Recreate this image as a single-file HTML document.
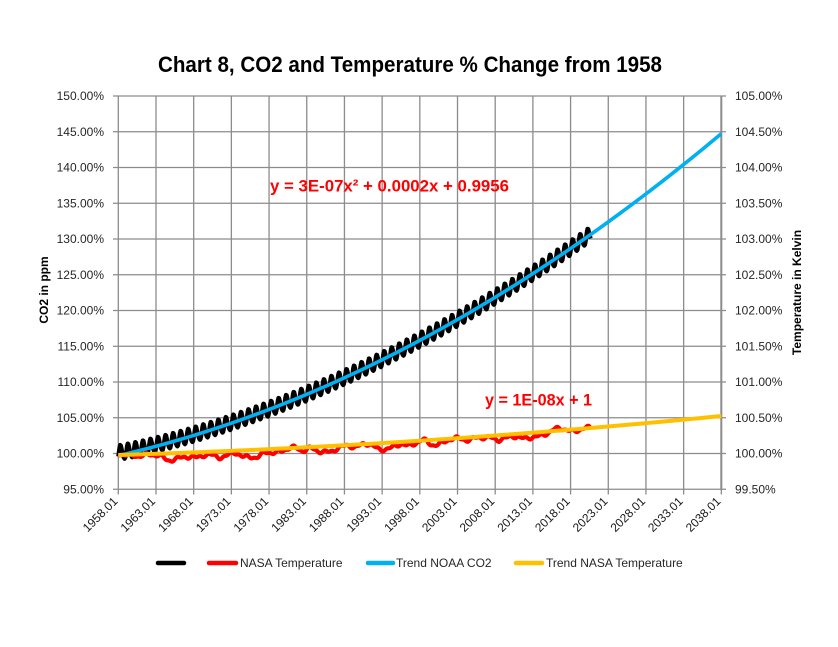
<!DOCTYPE html>
<html><head><meta charset="utf-8"><style>
html,body{margin:0;padding:0;background:#fff}
svg{display:block}
text{font-family:"Liberation Sans",Arial,sans-serif}
</style></head><body>
<svg id="s" width="838" height="647" viewBox="0 0 838 647" xmlns="http://www.w3.org/2000/svg">
<rect width="838" height="647" fill="#fff"/>
<g id="grid" stroke="#8c8c8c" stroke-width="1.3" fill="none"></g>
<line x1="721.3" y1="96" x2="721.3" y2="490" stroke="#8c8c8c" stroke-width="2"/>
<g id="ylab" font-size="12" fill="#262626" text-anchor="end"></g>
<g id="rlab" font-size="12" fill="#262626" text-anchor="start"></g>
<g id="xlab" font-size="12" fill="#1a1a1a" text-anchor="end"></g>
<path id="co2" fill="none" stroke="#000" stroke-width="4.2" stroke-linejoin="round"/>
<path id="temp" fill="none" stroke="#ff0000" stroke-width="4.2" stroke-linejoin="round"/>
<path id="tco2" fill="none" stroke="#00b0f0" stroke-width="3.6" stroke-linejoin="round"/>
<path id="ttemp" fill="none" stroke="#ffc000" stroke-width="4" stroke-linejoin="round"/>
<text x="410" y="72" font-size="22" font-weight="bold" fill="#000" text-anchor="middle" textLength="504" lengthAdjust="spacingAndGlyphs">Chart 8, CO2 and Temperature % Change from 1958</text>
<text x="270" y="191.5" font-size="16.5" font-weight="bold" fill="#ff0000" textLength="239" lengthAdjust="spacingAndGlyphs">y = 3E-07x² + 0.0002x + 0.9956</text>
<text x="485" y="405.7" font-size="16.5" font-weight="bold" fill="#ff0000" textLength="107" lengthAdjust="spacingAndGlyphs">y = 1E-08x + 1</text>
<text transform="translate(48,290) rotate(-90)" font-size="12" font-weight="bold" fill="#000" text-anchor="middle">CO2 in ppm</text>
<text transform="translate(801,292.5) rotate(-90)" font-size="12" font-weight="bold" fill="#000" text-anchor="middle">Temperature in Kelvin</text>
<g stroke-width="4.5" stroke-linecap="round">
<line x1="158" y1="563" x2="184" y2="563" stroke="#000"/>
<line x1="209" y1="563" x2="236" y2="563" stroke="#ff0000"/>
<line x1="368" y1="563" x2="393" y2="563" stroke="#00b0f0"/>
<line x1="516" y1="563" x2="542" y2="563" stroke="#ffc000"/>
</g>
<g font-size="12" fill="#262626">
<text x="240" y="567">NASA Temperature</text>
<text x="396" y="567">Trend NOAA CO2</text>
<text x="546" y="567">Trend NASA Temperature</text>
</g>
</svg>
<script>
(function(){
var NS="http://www.w3.org/2000/svg";
function el(p,tag,attrs,txt){var e=document.createElementNS(NS,tag);for(var k in attrs)e.setAttribute(k,attrs[k]);if(txt!==undefined)e.textContent=txt;p.appendChild(e);return e;}
var X0=118.3, XS=37.69, Y0=96, YS=35.75;
var grid=document.getElementById('grid');
for(var i=0;i<=11;i++){var y=Y0+i*YS;el(grid,'line',{x1:113,y1:y,x2:726,y2:y});}
for(var j=0;j<=16;j++){var x=X0+j*XS;el(grid,'line',{x1:x,y1:Y0,x2:x,y2:494.5});}
var yl=document.getElementById('ylab'),rl=document.getElementById('rlab'),xl=document.getElementById('xlab');
for(var i=0;i<=11;i++){var y=Y0+i*YS+4.2;
 el(yl,'text',{x:104,y:y},(150-5*i).toFixed(2)+'%');
 el(rl,'text',{x:735,y:y},(105-0.5*i).toFixed(2)+'%');}
for(var j=0;j<=16;j++){var x=X0+j*XS;
 el(xl,'text',{transform:'translate('+x.toFixed(1)+',502) rotate(-45)'},(1958+5*j)+'.01');}
var PX=7.538;
function yL(v){return Y0+(150-v)*7.15;}
function tr(t){return 99.7+0.243*t+0.0040*t*t;}
var d='';
for(var i=0;i<=160;i++){var t=i*0.5;d+=(i?'L':'M')+(X0+t*PX).toFixed(2)+','+yL(tr(t)).toFixed(2);}
document.getElementById('tco2').setAttribute('d',d);
d='';
var n=Math.round(62.7*12);
for(var m=0;m<=n;m++){var t=m/12;
 var seas=1.0*Math.sin(2*Math.PI*(t-0.05))+0.15*Math.sin(4*Math.PI*(t-0.1));
 var early=0.35*Math.exp(-t/6);
 var v=tr(t)+seas+early;
 d+=(m?'L':'M')+(X0+t*PX).toFixed(2)+','+yL(v).toFixed(2);}
document.getElementById('co2').setAttribute('d',d);
d='';
for(var i=0;i<=60;i++){var u=603*i/60;var y=455-0.03008*u-5.74e-5*u*u;d+=(i?'L':'M')+(X0+u).toFixed(2)+','+y.toFixed(2);}
document.getElementById('ttemp').setAttribute('d',d);
var A=[0.06,0.03,-0.03,0.05,0.02,0.05,-0.20,-0.11,-0.06,-0.02,-0.08,0.05,0.03,-0.08,0.01,0.16,-0.07,-0.01,-0.10,0.18,0.07,0.16,0.26,0.32,0.14,0.31,0.16,0.12,0.18,0.32,0.39,0.27,0.45,0.41,0.22,0.23,0.31,0.45,0.33,0.46,0.61,0.38,0.39,0.54,0.63,0.62,0.53,0.68,0.64,0.66,0.54,0.65,0.72,0.61,0.65,0.68,0.75,0.90,1.01,0.92,0.85,0.98,1.02,0.85];
function anom(t){var c=t-0.5;if(c<=0)return A[0];var i=Math.floor(c);if(i>=A.length-1)return A[A.length-1];var f=c-i;f=f*f*(3-2*f);return A[i]*(1-f)+A[i+1]*f;}
d='';
for(var m=0;m<=Math.round(62.6*12);m++){var t=m/12;
 var a=(anom(t-0.4)+anom(t)+anom(t+0.4))/3;
 var y=455-28*(a-0.03)+1.2*Math.sin(t*2.9)+0.8*Math.sin(t*6.1+1.3);
 d+=(m?'L':'M')+(X0+t*PX).toFixed(2)+','+y.toFixed(2);}
document.getElementById('temp').setAttribute('d',d);
})();
</script>
</body></html>
